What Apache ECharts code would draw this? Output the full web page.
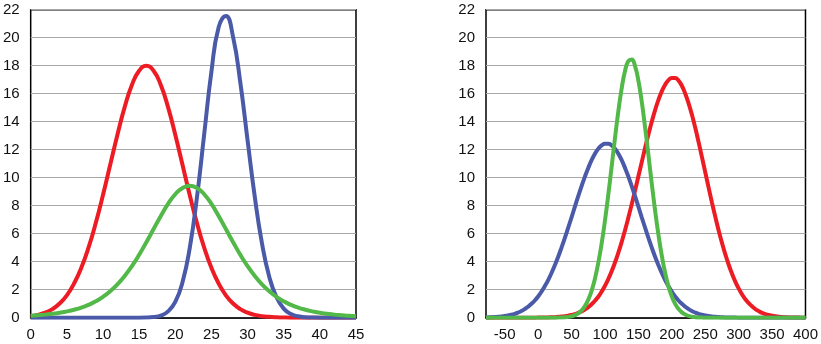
<!DOCTYPE html>
<html>
<head>
<meta charset="utf-8">
<script src="https://cdn.jsdelivr.net/npm/echarts@6/dist/echarts.min.js"></script>
<style>
  html, body { margin: 0; padding: 0; background: #ffffff; }
  #chart { width: 821px; height: 344px; }
</style>
</head>
<body>
<div id="chart"></div>
<script>
// Left panel: three density curves over x = 0..45
const leftX = [0, 1, 2, 3, 4, 5, 6, 7, 8, 9, 10, 11, 12, 13, 14, 15, 16, 17, 18, 19, 20, 21, 22,
  23, 24, 25, 26, 27, 28, 29, 30, 31, 32, 33, 34, 35, 36, 37, 38, 39, 40, 41, 42, 43, 44, 45];
const leftRed = [0.11, 0.20, 0.36, 0.61, 1.01, 1.60, 2.44, 3.56, 5.00, 6.76, 8.76, 10.92, 13.07, 15.04,
  16.62, 17.64, 18.00, 17.64, 16.62, 15.04, 13.07, 10.92, 8.76, 6.76, 5.00, 3.56, 2.44, 1.60, 1.01,
  0.61, 0.36, 0.20, 0.11, 0.06, 0.03, 0.01, 0, 0, 0, 0, 0, 0, 0, 0, 0, 0];
const leftBlue = [0, 0, 0, 0, 0, 0, 0, 0, 0, 0, 0, 0, 0, 0, 0, 0, 0.01, 0.05, 0.15, 0.45, 1.13, 2.53,
  4.97, 8.60, 13.10, 17.57, 20.74, 21.55, 20.04, 16.79, 12.68, 8.63, 5.29, 2.92, 1.46, 0.65, 0.26,
  0.10, 0.03, 0.01, 0, 0, 0, 0, 0, 0];
const leftGreen = [0.14, 0.18, 0.22, 0.28, 0.35, 0.45, 0.57, 0.72, 0.92, 1.17, 1.49, 1.89, 2.38, 2.98,
  3.68, 4.49, 5.39, 6.33, 7.27, 8.13, 8.82, 9.27, 9.43, 9.27, 8.82, 8.13, 7.27, 6.33, 5.39, 4.49,
  3.68, 2.98, 2.38, 1.89, 1.49, 1.17, 0.92, 0.72, 0.57, 0.45, 0.35, 0.28, 0.22, 0.18, 0.14, 0.11];

// Right panel: three density curves over x = -78..400
const rightX = [-78, -75, -70, -65, -60, -55, -50, -45, -40, -35, -30, -25, -20, -15, -10, -5,
  0, 5, 10, 15, 20, 25, 30, 35, 40, 45, 50, 55, 60, 65, 70, 75, 80, 85, 90, 95,
  100, 105, 110, 115, 120, 125, 130, 135, 140, 145, 150, 155, 160, 165, 170, 175, 180, 185, 190, 195,
  200, 205, 210, 215, 220, 225, 230, 235, 240, 245, 250, 255, 260, 265, 270, 275, 280, 285, 290, 295,
  300, 305, 310, 315, 320, 325, 330, 335, 340, 345, 350, 355, 360, 365, 370, 375, 380, 385, 390, 395,
  400];
const rightBlue = [0.02, 0.02, 0.03, 0.05, 0.06, 0.09, 0.12, 0.16, 0.21, 0.28, 0.37, 0.48, 0.62, 0.79,
  0.99, 1.23, 1.52, 1.86, 2.25, 2.69, 3.19, 3.75, 4.35, 5.01, 5.70, 6.43, 7.17, 7.93, 8.68, 9.40,
  10.08, 10.70, 11.25, 11.71, 12.07, 12.31, 12.43, 12.43, 12.31, 12.07, 11.71, 11.25, 10.70, 10.08,
  9.40, 8.68, 7.93, 7.17, 6.43, 5.70, 5.01, 4.35, 3.75, 3.19, 2.69, 2.25, 1.86, 1.52, 1.23, 0.99,
  0.79, 0.62, 0.48, 0.37, 0.28, 0.21, 0.16, 0.12, 0.09, 0.06, 0.05, 0.03, 0.02, 0.02, 0.01, 0.01,
  0, 0, 0, 0, 0, 0, 0, 0, 0, 0, 0, 0, 0, 0, 0, 0, 0, 0, 0, 0, 0];
const rightRed = [0, 0, 0, 0, 0, 0, 0, 0, 0, 0, 0, 0, 0, 0, 0, 0,
  0.01, 0.01, 0.01, 0.02, 0.03, 0.04, 0.06, 0.08, 0.11, 0.15, 0.20, 0.26, 0.35, 0.45, 0.59, 0.75,
  0.96, 1.21, 1.50, 1.86, 2.28, 2.76, 3.31, 3.94, 4.64, 5.41, 6.25, 7.15, 8.10, 9.08, 10.10, 11.11,
  12.12, 13.09, 14.00, 14.83, 15.56, 16.17, 16.64, 16.97, 17.13,
  17.13, 16.94, 16.57, 16.02, 15.33, 14.51, 13.58, 12.56, 11.49, 10.40, 9.31, 8.24, 7.22, 6.25,
  5.36, 4.54, 3.80, 3.15, 2.58, 2.09, 1.67, 1.32, 1.04, 0.81, 0.62, 0.47, 0.35, 0.26, 0.19, 0.14,
  0.10, 0.07, 0.05, 0.03, 0.02, 0.02, 0.01, 0.01, 0, 0];
const rightGreen = [0, 0, 0, 0, 0, 0, 0, 0, 0, 0, 0, 0, 0, 0, 0, 0, 0, 0, 0, 0, 0, 0,
  0.01, 0.02, 0.03, 0.06, 0.10, 0.18, 0.31, 0.52, 0.83, 1.29, 1.92, 2.79, 3.91, 5.29, 6.94, 8.80,
  10.80, 12.83, 14.74, 16.38, 17.62, 18.33, 18.45, 17.97, 16.93, 15.44, 13.61, 11.62, 9.59, 7.66,
  5.92, 4.43, 3.21, 2.24, 1.52, 0.99, 0.63, 0.38, 0.23, 0.13, 0.07, 0.04, 0.02, 0.01,
  0, 0, 0, 0, 0, 0, 0, 0, 0, 0, 0, 0, 0, 0, 0, 0, 0, 0, 0, 0, 0, 0, 0, 0, 0, 0, 0, 0, 0, 0, 0];

// Tick labels
const leftXTicks = [0, 5, 10, 15, 20, 25, 30, 35, 40, 45];
const rightXTicks = [-50, 0, 50, 100, 150, 200, 250, 300, 350, 400];
const yTicks = [0, 2, 4, 6, 8, 10, 12, 14, 16, 18, 20, 22];

const RED = '#ed1c24';
const BLUE = '#4a5aa8';
const GREEN = '#52b848';
const FONT = '"Liberation Sans", Arial, sans-serif';

function pairs(xs, ys) {
  return xs.map((x, i) => [x, ys[i]]);
}

function curve(name, xs, ys, color, idx) {
  return {
    name: name,
    type: 'line',
    xAxisIndex: idx,
    yAxisIndex: idx,
    data: pairs(xs, ys),
    smooth: 0.5,
    showSymbol: false,
    symbol: 'none',
    clip: true,
    lineStyle: { color: color, width: 4 },
    itemStyle: { color: color },
    emphasis: { disabled: true },
    silent: true
  };
}

const labelStyle = { color: '#111', fontSize: 15, fontFamily: FONT };

function xAxisFor(idx, min, max, ticks) {
  return {
    type: 'value',
    gridIndex: idx,
    min: min,
    max: max,
    axisLine: { show: true, onZero: false, lineStyle: { color: '#000', width: 1.5 } },
    axisTick: { show: false },
    splitLine: { show: false },
    axisLabel: Object.assign({ margin: 10, customValues: ticks, showMinLabel: true, showMaxLabel: true }, labelStyle)
  };
}

function yAxisFor(idx) {
  return {
    type: 'value',
    gridIndex: idx,
    min: yTicks[0],
    max: yTicks[yTicks.length - 1],
    interval: 2,
    axisLine: { show: false },
    axisTick: { show: false },
    splitLine: { show: true, lineStyle: { color: '#a8a8a8', width: 1 } },
    axisLabel: Object.assign({ margin: 11 }, labelStyle)
  };
}

const gridBox = { show: true, borderColor: '#000', borderWidth: 1.5, backgroundColor: 'transparent' };

const chart = echarts.init(document.getElementById('chart'), null, { renderer: 'canvas' });
chart.setOption({
  animation: false,
  backgroundColor: '#ffffff',
  grid: [
    Object.assign({ left: 29.5, right: 465, top: 9.7, bottom: 26.3 }, gridBox),
    Object.assign({ left: 486, right: 11.7, top: 9.7, bottom: 26.3 }, gridBox)
  ],
  xAxis: [
    xAxisFor(0, leftX[0], leftX[leftX.length - 1], leftXTicks),
    xAxisFor(1, rightX[0], rightX[rightX.length - 1], rightXTicks)
  ],
  yAxis: [yAxisFor(0), yAxisFor(1)],
  series: [
    curve('red', leftX, leftRed, RED, 0),
    curve('blue', leftX, leftBlue, BLUE, 0),
    curve('green', leftX, leftGreen, GREEN, 0),
    curve('red', rightX, rightRed, RED, 1),
    curve('blue', rightX, rightBlue, BLUE, 1),
    curve('green', rightX, rightGreen, GREEN, 1)
  ]
});
</script>
</body>
</html>
